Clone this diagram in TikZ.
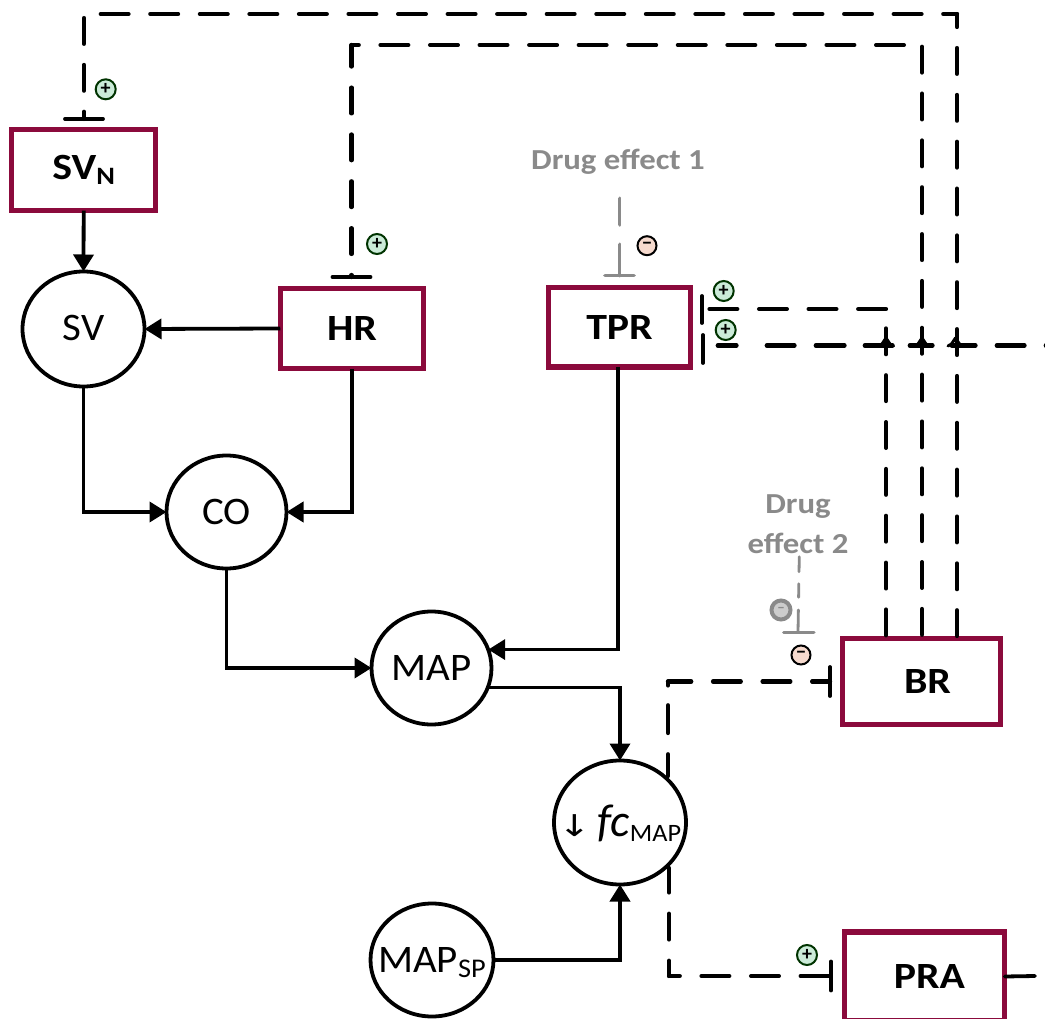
\documentclass[tikz,border=0pt]{standalone}
\usepackage{fontspec}
\setmainfont{Carlito}
\newfontfamily\arrowfont{DejaVu Sans}
\newfontfamily\widebold[FakeStretch=1.13]{Carlito Bold}
\newfontfamily\wideplain[FakeStretch=1.05]{Carlito}
\usetikzlibrary{arrows.meta,shapes.geometric,calc}
\definecolor{boxred}{HTML}{8B0A3C}
\definecolor{greyline}{HTML}{8A8A8A}
\definecolor{plusfill}{HTML}{CBEBD8}
\definecolor{minusfill}{HTML}{F6DACE}
\newcommand{\lab}[1]{\widebold\fontsize{37}{40}\selectfont #1}
\newcommand{\circtext}[1]{\smash{\makebox[0pt]{\raisebox{-12pt}{\wideplain\fontsize{39}{42}\selectfont #1}}}}
\newcommand{\subdown}[2]{\raisebox{-5.5pt}{\fontsize{#1}{#1}\selectfont #2}}
\tikzset{
  boxnode/.style={draw=boxred,line width=5.2pt,fill=white,inner sep=0pt,outer sep=0pt,text=black,minimum width=#1},
  circnode/.style={ellipse,draw=black,line width=3.8pt,fill=white,inner sep=0pt,outer sep=0pt},
  flow/.style={draw=black,line width=3.8pt,-{Triangle[length=17pt,width=20pt]}},
  plain/.style={draw=black,line width=3.8pt,line cap=round},
  hdash/.style={draw=black,line width=4.2pt,line cap=round,dash pattern=on 27.8pt off 21.76pt,dash phase=#1},
  vdash/.style={draw=black,line width=4.2pt,line cap=round,dash pattern=on 25.8pt off 21.05pt,dash phase=#1},
  grey1/.style={draw=greyline,line width=3.8pt,line cap=round},
  grey2/.style={draw=greyline,line width=2.8pt,line cap=round},
  wing/.style={draw=black,line width=3pt,line cap=round,line join=round},
  plussign/.style={circle,draw=black!80!green,line width=2pt,fill=plusfill,inner sep=0pt,minimum size=20pt,font=\fontsize{20}{20}\selectfont\bfseries},
  minussign/.style={circle,draw=black,line width=2pt,fill=minusfill,inner sep=0pt,minimum size=19pt,font=\fontsize{20}{20}\selectfont\bfseries},
  greysign/.style={circle,draw=greyline,line width=4pt,fill=black!20,inner sep=0pt,minimum size=19pt,text=greyline,font=\fontsize{14}{14}\selectfont\bfseries},
  greylabel/.style={text=greyline,inner sep=0pt,font=\widebold\fontsize{29}{31}\selectfont}
}
\begin{document}
\begin{tikzpicture}[x=1pt,y=-1pt]
\useasboundingbox[fill=white] (0,0) rectangle (1045,1019);
% nodes
\node[boxnode=144.3pt,minimum height=81.3pt] (svn) at (83.7,169.9) {\lab{SV\subdown{25}{N}}};
\node[boxnode=143.5pt,minimum height=80.5pt] (hr) at (352,328.5) {\lab{HR}};
\node[boxnode=142.5pt,minimum height=79pt] (tpr) at (619.5,327.4) {\lab{TPR}};
\node[boxnode=158.5pt,minimum height=86.5pt] (br) at (921.5,681.5) {\hspace{12pt}\lab{BR}};
\node[boxnode=160.5pt,minimum height=89pt] (pra) at (924.5,976.5) {\hspace{10pt}\lab{PRA}};
\node[circnode,minimum width=122pt,minimum height=115pt] (sv) at (83.5,329) {\circtext{SV}};
\node[circnode,minimum width=120pt,minimum height=113pt] (co) at (226.5,512) {\circtext{CO}};
\node[circnode,minimum width=120pt,minimum height=113pt] (map) at (431.5,668) {\circtext{MAP}};
\node[circnode,minimum width=132pt,minimum height=124pt] (fc) at (620,822.5) {\smash{\makebox[0pt]{\raisebox{-13.5pt}{\wideplain\fontsize{25}{30}\selectfont\scalebox{1.3}[1]{\arrowfont\fontsize{30}{32}\selectfont ↓}\hspace{6pt}{\setmainfont{Carlito}\fontsize{46}{48}\selectfont\itshape fc}\raisebox{-5pt}{MAP}}}}};
\node[circnode,minimum width=123pt,minimum height=113pt] (mapsp) at (432,960) {\circtext{MAP\subdown{27}{SP}}};
% solid connectors
\draw[flow] (svn.south) -- (sv.north);
\draw[flow] (hr.west) -- (sv.east);
\draw[flow] (sv.south) |- (co.west);
\draw[flow] (hr.south) |- (co.east);
\draw[flow] (co.south) |- (map.west);
\draw[flow] ([xshift=-1.5pt]tpr.south) |- (map.18);
\draw[flow] (map.-19) -| (fc.north);
\draw[flow] (mapsp.east) -| (fc.south);
% coordinates of the feedback lines
\coordinate (svnT) at (84,119);
\coordinate (hrT) at (351.5,277);
\coordinate (aC) at (84,14);
\coordinate (aD) at (957,14);
\coordinate (aE) at (957,636);
\coordinate (bC) at (351.5,45);
\coordinate (bD) at (922,45);
\coordinate (bE) at (922,636);
\coordinate (cS) at (709.5,309);
\coordinate (cE) at (886,309);
\coordinate (cT) at (886,328.4);
\coordinate (cB) at (886,636);
\coordinate (dS) at (717.75,345.5);
\coordinate (dE) at (1050,345.5);
\coordinate (tprA) at (702,309.5);
\coordinate (tprB) at (703,349);
\coordinate (eC) at (668,681.5);
\coordinate (eT) at (830,681.5);
\coordinate (eF) at (668,776);
\coordinate (fC) at (669,976);
\coordinate (fT) at (831,976);
\coordinate (fF) at (669,868);
\coordinate (praOut) at (1035,976);
% outer feedback
\draw[vdash=18.55pt] (svnT) -- (84,17.75);
\draw[hdash=0pt] (100.75,14) -- (aD);
\draw[vdash=12.8pt] (aD) -- (aE);
\draw[plain] ([xshift=-19pt]svnT) -- ([xshift=19pt]svnT);
% inner feedback
\draw[vdash=23.8pt] (hrT) -- (bC);
\draw[hdash=20.55pt] (bC) -- (bD);
\draw[vdash=0pt] (922,46.75) -- (bE);
\draw[plain] ([xshift=-19pt]hrT) -- ([xshift=19pt]hrT);
% to TPR
\draw[hdash=0pt] (cS) -- (cE);
\draw[vdash=0pt] (cT) -- (cB);
\draw[draw=black,line width=4.2pt,line cap=round,dash pattern=on 18.8pt off 30.2pt on 27.8pt off 21.2pt on 28.8pt off 20.2pt on 27.8pt off 17.2pt on 22.8pt off 19.2pt on 23.8pt off 21.2pt on 27.8pt off 21.2pt] (dS) -- (dE);
\draw[plain] ([yshift=13.5pt]tprA) -- ([yshift=-13.5pt]tprA);
\draw[plain] ([yshift=14pt]tprB) -- ([yshift=-14pt]tprB);
% arrow wings on the crossings
\foreach \cx in {886,922,955.5}{
  \draw[wing] (\cx-7.5,346) -- (\cx-4,344) -- (\cx,338) -- (\cx+4,344) -- (\cx+7.5,346);
}
% from fc to BR
\draw[hdash=4.55pt] (eC) -- (eT);
\draw[draw=black,line width=4.2pt,line cap=round,dash pattern=on 4pt off 19.75pt on 27.8pt off 21.2pt on 30pt off 10pt] (eC) -- (eF);
\draw[plain] ([yshift=14.5pt]eT) -- ([yshift=-14.5pt]eT);
% from fc to PRA
\draw[hdash=17.05pt] (fC) -- (fT);
\draw[draw=black,line width=4.2pt,line cap=round,dash pattern=on 15.3pt off 21.2pt on 25.8pt off 21.2pt on 25.8pt off 20pt] (fC) -- (fF);
\draw[plain] ([yshift=14.5pt]fT) -- ([yshift=-14.5pt]fT);
\draw[plain] (pra.east) -- (praOut);
% drug effects
\node[greylabel] (drug1) at (618,162) {Drug effect 1};
\coordinate (d1T) at (619.5,275.5);
\coordinate (d1E) at (619.5,197.5);
\draw[grey1,dash pattern=on 31pt off 19.75pt on 26.25pt off 20pt] (d1T) -- (d1E);
\draw[grey1] ([xshift=-14.5pt]d1T) -- ([xshift=14.5pt]d1T);
\node[greylabel] (drug2a) at (798,507) {Drug};
\node[greylabel] (drug2b) at (798,543) {effect 2};
\coordinate (d2T) at (798,632.5);
\coordinate (d2E) at (799.3,556);
\draw[grey2,dash pattern=on 22.5pt off 12.75pt on 13.5pt off 12pt on 15pt off 10pt] (d2T) -- (d2E);
\draw[grey1,line width=3pt] ([xshift=-14.5pt]d2T) -- ([xshift=16pt]d2T);
% signs
\node[plussign] (s1) at (105.7,89.3) {+};
\node[plussign] (s2) at (377,244) {+};
\node[plussign] (s3) at (723.7,291) {+};
\node[plussign] (s4) at (725.7,330) {+};
\node[plussign] (s5) at (807,955) {+};
\node[minussign] (s6) at (647,245.7) {−};
\node[minussign] (s7) at (801,655) {−};
\node[greysign] (s8) at (781,610) {−};
\end{tikzpicture}
\end{document}
